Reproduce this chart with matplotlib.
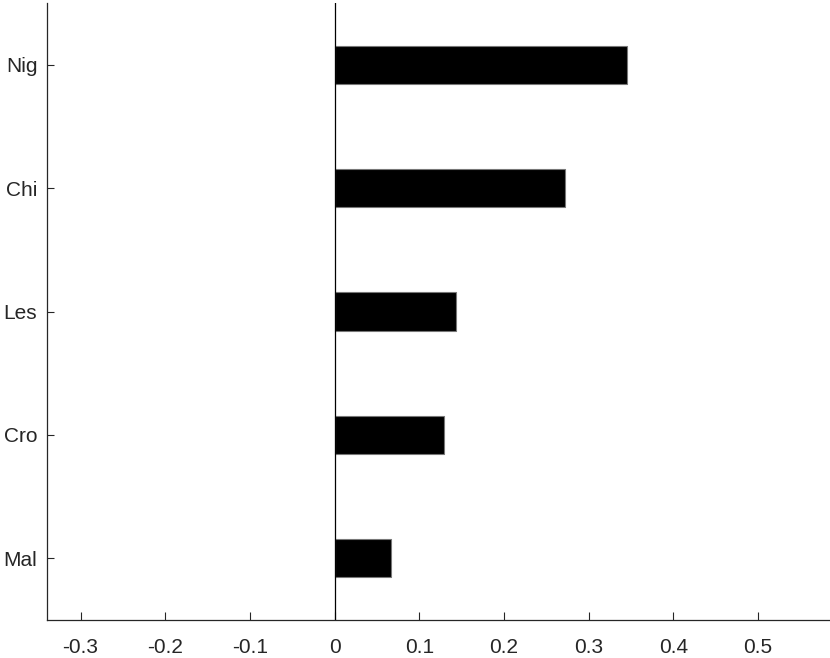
import matplotlib
matplotlib.use("Agg")
import matplotlib.pyplot as plt

categories = ["Mal", "Cro", "Les", "Chi", "Nig"]
values = [0.0664, 0.129, 0.143, 0.2716, 0.345]
xticks = [-0.3, -0.2, -0.1, 0, 0.1, 0.2, 0.3, 0.4, 0.5]
xticklabels = ["-0.3", "-0.2", "-0.1", "0", "0.1", "0.2", "0.3", "0.4", "0.5"]

plt.rcParams['font.family'] = ['Liberation Sans', 'DejaVu Sans']

fig = plt.figure(figsize=(8.3, 6.58), dpi=100)
W, H = 830, 658
left, right, top, bottom = 47, 830, 3, 620
ax = fig.add_axes([left / W, (H - bottom) / H, (right - left) / W, (bottom - top) / H])

ypos = list(range(1, len(categories) + 1))
ax.barh(ypos, values, height=0.31, color="black", edgecolor="#777777", linewidth=0.8, zorder=2)
ax.axvline(0, color="black", linewidth=0.9, zorder=3)

ax.set_xlim(-0.3396, 0.585)
ax.set_ylim(0.5, 5.5)
ax.set_yticks(ypos)
ax.set_yticklabels(categories)
ax.set_xticks(xticks)
ax.set_xticklabels(xticklabels)

for s in ["top", "right"]:
    ax.spines[s].set_visible(False)
for s in ["left", "bottom"]:
    ax.spines[s].set_linewidth(0.9)
    ax.spines[s].set_color("#262626")

ax.tick_params(axis="both", direction="in", width=0.8, color="#262626",
               labelsize=15, labelcolor="#262626")
ax.tick_params(axis="x", length=6, pad=13)
ax.tick_params(axis="y", length=5, pad=7)

fig.savefig("out.png", dpi=100, facecolor="white")
